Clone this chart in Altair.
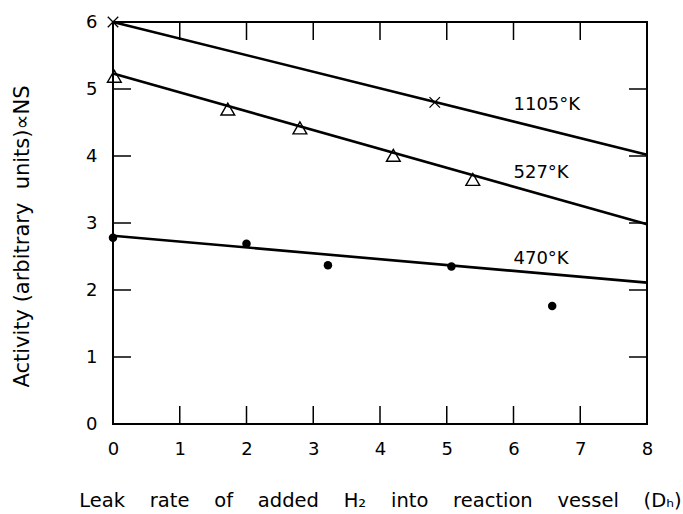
import altair as alt
import pandas as pd

# ---- data ----
x_ticks = [0, 1, 2, 3, 4, 5, 6, 7, 8]
y_ticks = [0, 1, 2, 3, 4, 5, 6]
x_inner_ticks = [1, 2, 3, 4, 5, 6, 7]
y_inner_ticks = [1, 2, 3, 4, 5]

# 1105 K (crosses)
k1105_x = [0.0, 4.82]
k1105_y = [6.0, 4.80]
# 527 K (open triangles)
k527_x = [0.02, 1.72, 2.8, 4.2, 5.39]
k527_y = [5.19, 4.70, 4.42, 4.01, 3.65]
# 470 K (filled dots)
k470_x = [0.0, 2.0, 3.22, 5.07, 6.58]
k470_y = [2.78, 2.69, 2.37, 2.35, 1.76]

# fitted straight lines (end points)
fit_x = [0, 8]
fit_1105 = [6.0, 4.02]
fit_527 = [5.23, 2.98]
fit_470 = [2.81, 2.11]

label_text = ["1105°K", "527°K", "470°K"]
label_x = [6.0, 6.0, 6.0]
label_y = [4.76, 3.74, 2.47]

NB = "\u00a0"
x_title = (f"Leak{NB*4}rate{NB*4}of{NB*4}added{NB*4}H\u2082{NB*4}into{NB*4}"
           f"reaction{NB*4}vessel{NB*4}(D\u2095)")
y_title = f"Activity{NB}(arbitrary{NB*2}units)\u221dNS"

W, H = 534, 402
TICK = 18
FONT = "DejaVu Sans"

# ---- tables ----
fits = pd.concat([
    pd.DataFrame({"x": fit_x, "y": fit_1105, "s": "1105"}),
    pd.DataFrame({"x": fit_x, "y": fit_527, "s": "527"}),
    pd.DataFrame({"x": fit_x, "y": fit_470, "s": "470"}),
])
crosses = pd.DataFrame({"x": k1105_x, "y": k1105_y})
tris = pd.DataFrame({"x": k527_x, "y": k527_y})
dots = pd.DataFrame({"x": k470_x, "y": k470_y})
labels = pd.DataFrame({"x": label_x, "y": label_y, "t": label_text})
xt = pd.DataFrame({"x": x_inner_ticks})
yt = pd.DataFrame({"y": y_inner_ticks})

xs = alt.Scale(domain=[0, 8], nice=False, zero=False)
ys = alt.Scale(domain=[0, 6], nice=False, zero=False)
x_axis = alt.Axis(values=x_ticks, tickSize=0, domain=False, grid=False,
                  labelFontSize=18, labelFont=FONT, labelColor="black",
                  labelPadding=16, titleFontSize=19.5, titleFont=FONT,
                  titleFontWeight="normal", titleColor="black",
                  titlePadding=33, labelFlush=False)
y_axis = alt.Axis(values=y_ticks, tickSize=0, domain=False, grid=False,
                  labelFontSize=18, labelFont=FONT, labelColor="black",
                  labelPadding=16, titleFontSize=21, titleFont=FONT,
                  titleFontWeight="normal", titleColor="black",
                  titlePadding=53, labelFlush=False, titleY=214)
X = alt.X("x:Q", scale=xs, axis=x_axis, title=x_title)
Y = alt.Y("y:Q", scale=ys, axis=y_axis, title=y_title)

fit_layer = alt.Chart(fits).mark_line(color="black", strokeWidth=2.6).encode(
    x=X, y=Y, detail="s:N")
cross_layer = alt.Chart(crosses).mark_point(
    shape="M-1,-1L1,1M-1,1L1,-1", filled=False, color="black",
    strokeWidth=1.3, size=110, opacity=1).encode(x=X, y=Y)
tri_layer = alt.Chart(tris).mark_point(
    shape="triangle-up", filled=False, color="black",
    strokeWidth=1.4, size=190, opacity=1).encode(x=X, y=Y)
dot_layer = alt.Chart(dots).mark_circle(color="black", size=72, opacity=1).encode(
    x=X, y=Y)
text_layer = alt.Chart(labels).mark_text(
    align="left", baseline="middle", fontSize=18, font=FONT, color="black").encode(
    x=X, y=Y, text="t:N")

tick_bottom = alt.Chart(xt).mark_rule(color="black", strokeWidth=1.5).encode(
    x=X, y=alt.value(H), y2=alt.value(H - TICK))
tick_top = alt.Chart(xt).mark_rule(color="black", strokeWidth=1.5).encode(
    x=X, y=alt.value(0), y2=alt.value(TICK))
tick_left = alt.Chart(yt).mark_rule(color="black", strokeWidth=1.5).encode(
    y=Y, x=alt.value(0), x2=alt.value(TICK))
tick_right = alt.Chart(yt).mark_rule(color="black", strokeWidth=1.5).encode(
    y=Y, x=alt.value(W), x2=alt.value(W - TICK))

chart = alt.layer(
    tick_bottom, tick_top, tick_left, tick_right,
    fit_layer, cross_layer, tri_layer, dot_layer, text_layer
).properties(
    width=W, height=H,
    autosize=alt.AutoSizeParams(type="none"),
    padding={"left": 113, "top": 22, "right": 36, "bottom": 90},
    background="white",
).configure_view(stroke="black", strokeWidth=2)

chart.save("out.html", embed_options={"renderer": "svg", "actions": False})
